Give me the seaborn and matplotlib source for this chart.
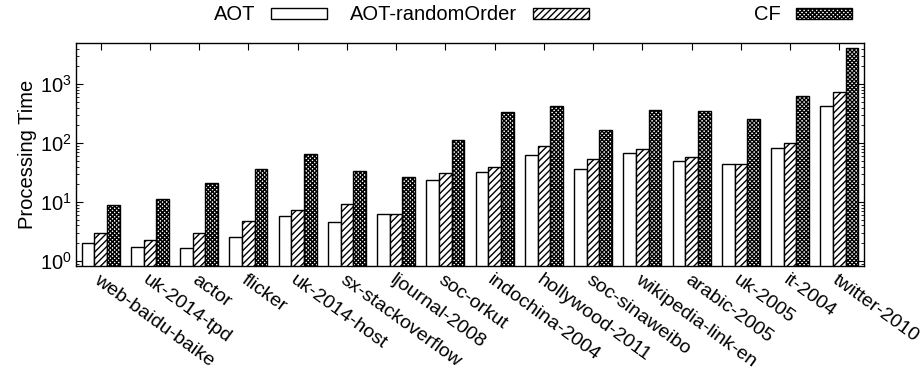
import numpy as np
import pandas as pd
import matplotlib
matplotlib.use('Agg')
import matplotlib.pyplot as plt
import seaborn as sns
from matplotlib.legend import Legend

# 資料
graphs = ['web-baidu-baike', 'uk-2014-tpd', 'actor', 'flicker', 'uk-2014-host',
          'sx-stackoverflow', 'ljournal-2008', 'soc-orkut', 'indochina-2004',
          'hollywood-2011', 'soc-sinaweibo', 'wikipedia-link-en', 'arabic-2005',
          'uk-2005', 'it-2004', 'twitter-2010']
aot = [2.0, 1.7, 1.64, 2.5, 5.8, 4.6, 6.3, 24, 32, 62, 37, 67, 49, 45, 84, 430]
aot_random = [3.0, 2.3, 3.0, 4.8, 7.2, 9.1, 6.3, 31, 40, 91, 53, 78, 59, 45, 99, 740]
cf = [8.9, 11.1, 21, 37, 66, 34, 27, 115, 335, 424, 166, 362, 348, 252, 632, 4170]
methods = ['AOT', 'AOT-randomOrder', 'CF']

df = pd.DataFrame({
    'graph': graphs * 3,
    'method': np.repeat(methods, len(graphs)),
    'time': aot + aot_random + cf,
})

sns.set_style('white')
plt.rcParams['font.family'] = ['Liberation Sans', 'DejaVu Sans']
plt.rcParams['font.size'] = 14.5
plt.rcParams['hatch.linewidth'] = 1.0
for k in ['text.color', 'axes.labelcolor', 'xtick.color', 'ytick.color']:
    plt.rcParams[k] = 'black'

fig = plt.figure(figsize=(9.22, 3.73), dpi=100)
ax = fig.add_axes([76 / 922, 1 - 266 / 373, (864 - 76) / 922, (266 - 43) / 373])
ax.set_yscale('log')
sns.barplot(data=df, x='graph', y='time', hue='method', hue_order=methods,
            width=0.77, gap=0, ax=ax, legend=False)

# 三種填充樣式: 空白 / 斜線 / 密網格
hatches = ['', '/////', 'xxxxxxxx']
for cont, h in zip(ax.containers, hatches):
    for bar in cont:
        bar.set_facecolor('white')
        bar.set_edgecolor('black')
        bar.set_linewidth(1.0)
        bar.set_hatch(h)

ax.set_ylim(0.82, 5000)
ax.set_xlim(-0.5, len(graphs) - 0.5)
ax.set_xlabel('')
ax.set_ylabel('Processing Time', fontsize=14.5, labelpad=2)
ax.set_xticks(range(len(graphs)))
ax.set_xticklabels(graphs, rotation=-36, ha='left', va='top', rotation_mode='anchor',
                   fontsize=14)
ax.tick_params(axis='x', which='major', direction='in', bottom=True, top=True,
               length=5, width=0.8, pad=4)
ax.tick_params(axis='y', which='major', direction='in', left=True, right=True,
               length=5, width=0.8, pad=3, labelsize=14.5)
ax.tick_params(axis='y', which='minor', direction='in', left=True, right=True,
               length=2.5, width=0.6)
for s in ax.spines.values():
    s.set_color('black')
    s.set_linewidth(1.0)

# 圖例: 文字在左, 樣本在右, 三組分開放
legend_right = [327, 589, 852]
for cont, name, xr in zip(ax.containers, methods, legend_right):
    leg = Legend(fig, [cont.patches[0]], [name], loc='center right',
                 bbox_to_anchor=(xr / 922, 1 - 15 / 373), frameon=False,
                 markerfirst=False, handlelength=2.8, handleheight=0.45,
                 handletextpad=0.75, borderpad=0, borderaxespad=0, fontsize=14.5)
    fig.add_artist(leg)

fig.savefig('out.png', dpi=100)
